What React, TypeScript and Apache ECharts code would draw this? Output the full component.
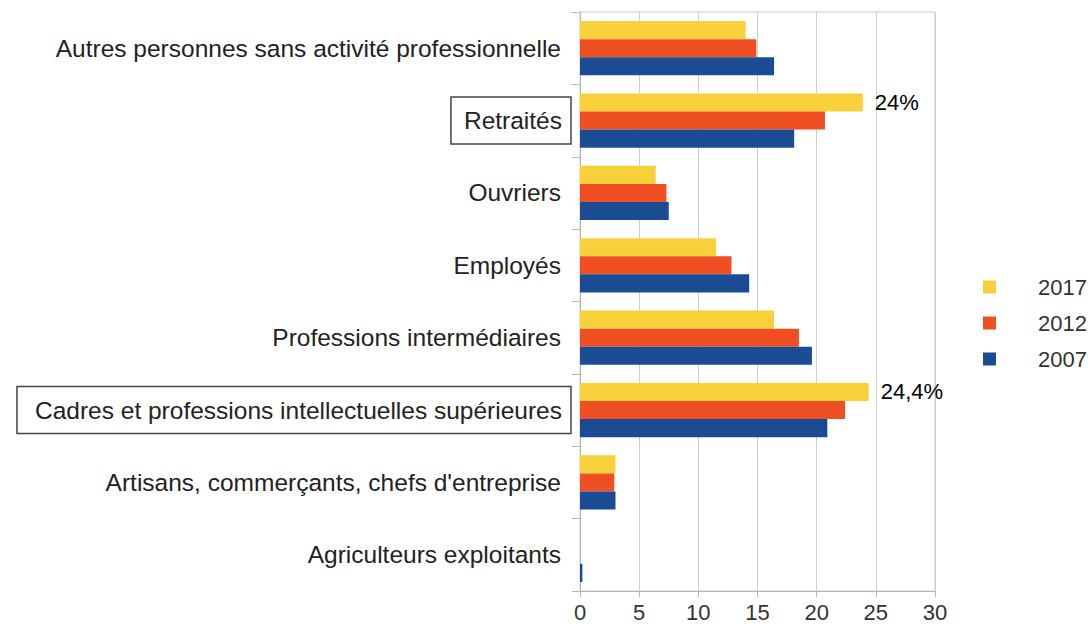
import React, { useEffect, useRef } from "react";
import * as echarts from "echarts";

const categories = [
  "Autres personnes sans activité professionnelle",
  "Retraités",
  "Ouvriers",
  "Employés",
  "Professions intermédiaires",
  "Cadres et professions intellectuelles supérieures",
  "Artisans, commerçants, chefs d'entreprise",
  "Agriculteurs exploitants",
];
const boxedSmall = ["Retraités"];
const boxedLarge = ["Cadres et professions intellectuelles supérieures"];

const seriesNames = ["2017", "2012", "2007"];
const values2017 = [14.0, 23.9, 6.4, 11.5, 16.4, 24.4, 3.0, 0];
const values2012 = [14.9, 20.7, 7.3, 12.8, 18.5, 22.4, 2.9, 0];
const values2007 = [16.4, 18.1, 7.5, 14.3, 19.6, 20.9, 3.0, 0.2];
const barLabels2017 = ["", "24%", "", "", "", "24,4%", "", ""];

const colors = ["#F8D13A", "#F04E23", "#1B4C93"];
const xTicks = [0, 5, 10, 15, 20, 25, 30];

export default function App() {
  const ref = useRef<HTMLDivElement>(null);
  useEffect(() => {
    if (!ref.current) return;
    const chart = echarts.init(ref.current, null, { renderer: "svg" });
    const allValues = [values2017, values2012, values2007];
    const font = "'Liberation Sans', Arial, sans-serif";
    chart.setOption({
      animation: false,
      backgroundColor: "#fff",
      textStyle: { fontFamily: font },
      grid: {
        left: 580,
        right: 156,
        top: 12,
        bottom: 43,
        show: true,
        borderColor: "#c8c8c8",
        borderWidth: 1,
      },
      legend: {
        orient: "vertical",
        left: 978,
        top: 271,
        itemWidth: 13,
        itemHeight: 13,
        itemGap: 14,
        icon: "rect",
        data: seriesNames,
        textStyle: { fontSize: 22, color: "#333", padding: [0, 0, 0, 37], fontFamily: font },
      },
      xAxis: {
        type: "value",
        min: xTicks[0],
        max: xTicks[xTicks.length - 1],
        interval: 5,
        axisLine: { show: true, lineStyle: { color: "#b8b8b8" } },
        axisTick: { show: true, length: 6, lineStyle: { color: "#b8b8b8" } },
        splitLine: { show: true, lineStyle: { color: "#cfcfcf" } },
        axisLabel: { fontSize: 22, color: "#333", margin: 10, fontFamily: font },
      },
      yAxis: {
        type: "category",
        inverse: true,
        data: categories,
        axisLine: { show: true, lineStyle: { color: "#b8b8b8" } },
        axisTick: { show: true, length: 8, lineStyle: { color: "#b8b8b8" } },
        axisLabel: {
          margin: 9,
          fontFamily: font,
          formatter: (v: string) =>
            boxedSmall.includes(v)
              ? `{boxA|${v}}`
              : boxedLarge.includes(v)
              ? `{boxB|${v}}`
              : `{plain|${v}}`,
          rich: {
            plain: { fontSize: 24.5, color: "#222", padding: [0, 10, 0, 0], fontFamily: font },
            boxA: {
              fontSize: 24.5,
              color: "#222",
              borderColor: "#444",
              borderWidth: 1.5,
              padding: [11, 9, 11, 13],
              fontFamily: font,
            },
            boxB: {
              fontSize: 24.5,
              color: "#222",
              borderColor: "#444",
              borderWidth: 1.5,
              padding: [11, 9, 11, 18],
              fontFamily: font,
            },
          },
        },
      },
      series: seriesNames.map((name, i) => ({
        name,
        type: "bar",
        barGap: "0%",
        barCategoryGap: "25%",
        itemStyle: { color: colors[i] },
        data: allValues[i].map((v, j) =>
          i === 0 && barLabels2017[j]
            ? {
                value: v,
                label: {
                  show: true,
                  position: "right",
                  distance: 12,
                  formatter: barLabels2017[j],
                  fontSize: 22,
                  color: "#000",
                  fontFamily: font,
                },
              }
            : v
        ),
      })),
    });
    return () => chart.dispose();
  }, []);
  return (
    <div
      ref={ref}
      style={{ position: "fixed", left: 0, top: 0, width: 1091, height: 634, background: "#fff" }}
    />
  );
}
